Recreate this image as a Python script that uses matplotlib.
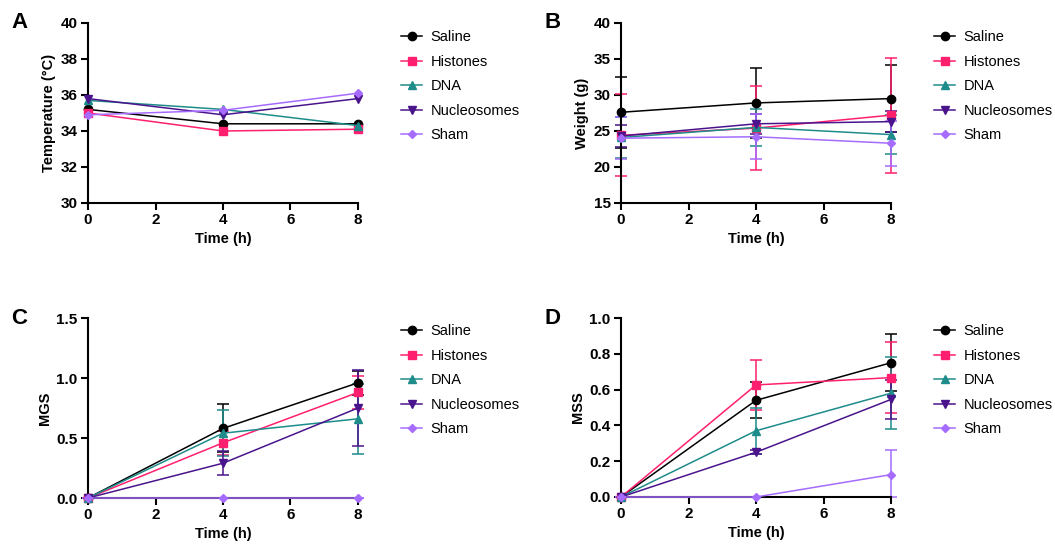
import matplotlib
matplotlib.use('Agg')
import matplotlib.pyplot as plt
import numpy as np

plt.rcParams['font.family'] = ['Liberation Sans', 'DejaVu Sans']

# Time points
times = [0, 4, 8]
groups = ['Saline', 'Histones', 'DNA', 'Nucleosomes', 'Sham']
colors = ['#000000', '#FF1F6F', '#1E8C8A', '#4A148C', '#A66BFF']
markers = ['o', 's', '^', 'v', 'D']
msizes = [6, 6, 6, 6, 4]

# Panel A - temperature (°C)
temp_mean = [[35.2, 34.4, 34.4],
             [35.0, 34.0, 34.1],
             [35.7, 35.2, 34.3],
             [35.8, 34.9, 35.8],
             [34.9, 35.15, 36.1]]

# Panel B - weight (g), mean and SD
weight_mean = [[27.6, 28.9, 29.5],
               [24.4, 25.4, 27.2],
               [24.1, 25.5, 24.5],
               [24.3, 26.0, 26.3],
               [24.0, 24.2, 23.3]]
weight_sd = [[4.9, 4.9, 4.7],
             [5.7, 5.8, 8.0],
             [2.8, 2.6, 2.7],
             [1.5, 1.4, 1.5],
             [2.9, 3.1, 3.1]]

# Panel C - MGS
mgs_mean = [[0, 0.58, 0.96],
            [0, 0.46, 0.88],
            [0, 0.54, 0.66],
            [0, 0.29, 0.75],
            [0, 0, 0]]
mgs_sd = [[0, 0.2, 0.1],
          [0, 0.1, 0.14],
          [0, 0.19, 0.29],
          [0, 0.1, 0.32],
          [0, 0, 0]]

# Panel D - MSS
mss_mean = [[0, 0.54, 0.75],
            [0, 0.626, 0.667],
            [0, 0.37, 0.58],
            [0, 0.25, 0.545],
            [0, 0, 0.125]]
mss_sd = [[0, 0.1, 0.16],
          [0, 0.14, 0.2],
          [0, 0.13, 0.2],
          [0, 0.01, 0.11],
          [0, 0, 0.135]]

W, H = 1055, 548
fig = plt.figure(figsize=(W / 100, H / 100), dpi=100)


def make_ax(left, top, right, bottom):
    return fig.add_axes([left / W, 1 - bottom / H, (right - left) / W, (bottom - top) / H])


def draw_panel(ax, means, sds, ylim, yticks, ylabel, letter, leg_xy, ytickfmt):
    for i, g in enumerate(groups):
        if sds is not None:
            m = np.array(means[i], dtype=float)
            sd = np.array(sds[i], dtype=float)
            # lower bar stops at the axis floor
            lower = np.minimum(sd, m - ylim[0])
            ax.errorbar(times, m, yerr=[lower, sd], color=colors[i], lw=0, elinewidth=1.1,
                        capsize=4, capthick=1.1, clip_on=False, zorder=2)
        ax.plot(times, means[i], color=colors[i], marker=markers[i], ms=msizes[i], lw=1.1,
                label=g, clip_on=False, zorder=3)
    ax.set_xlim(0, 8)
    ax.set_ylim(*ylim)
    ax.set_xticks([0, 2, 4, 6, 8])
    ax.set_yticks(yticks)
    ax.set_yticklabels([ytickfmt.format(v) for v in yticks])
    for s in ['top', 'right']:
        ax.spines[s].set_visible(False)
    for s in ['left', 'bottom']:
        ax.spines[s].set_linewidth(1.5)
    ax.tick_params(width=1.5, length=5, labelsize=11, pad=2.5)
    for lab in ax.get_xticklabels() + ax.get_yticklabels():
        lab.set_fontweight('bold')
    ax.set_xlabel('Time (h)', fontsize=10.5, fontweight='bold', labelpad=3)
    ax.set_ylabel(ylabel, fontsize=10.5, fontweight='bold', labelpad=3)
    ax.legend(loc='upper left', bbox_to_anchor=(leg_xy[0] / W, 1 - leg_xy[1] / H),
              bbox_transform=fig.transFigure, frameon=False, fontsize=10.5,
              handlelength=1.4, handletextpad=0.6, labelspacing=0.72, borderpad=0)
    ax.text(-0.285, 1.0, letter, transform=ax.transAxes, fontsize=16, fontweight='bold',
            va='center', ha='left')


axA = make_ax(88, 23, 358, 203)
draw_panel(axA, temp_mean, None, (30, 40), [30, 32, 34, 36, 38, 40], 'Temperature (°C)', 'A',
           (394, 23), '{:g}')
axB = make_ax(621, 23, 891, 203)
draw_panel(axB, weight_mean, weight_sd, (15, 40), [15, 20, 25, 30, 35, 40], 'Weight (g)', 'B',
           (927, 23), '{:g}')
axC = make_ax(88, 318, 358, 498)
draw_panel(axC, mgs_mean, mgs_sd, (0, 1.5), [0, 0.5, 1.0, 1.5], 'MGS', 'C',
           (394, 317), '{:.1f}')
axD = make_ax(621, 318, 891, 497)
draw_panel(axD, mss_mean, mss_sd, (0, 1.0), [0, 0.2, 0.4, 0.6, 0.8, 1.0], 'MSS', 'D',
           (927, 317), '{:.1f}')

fig.savefig('out.png', dpi=100)
